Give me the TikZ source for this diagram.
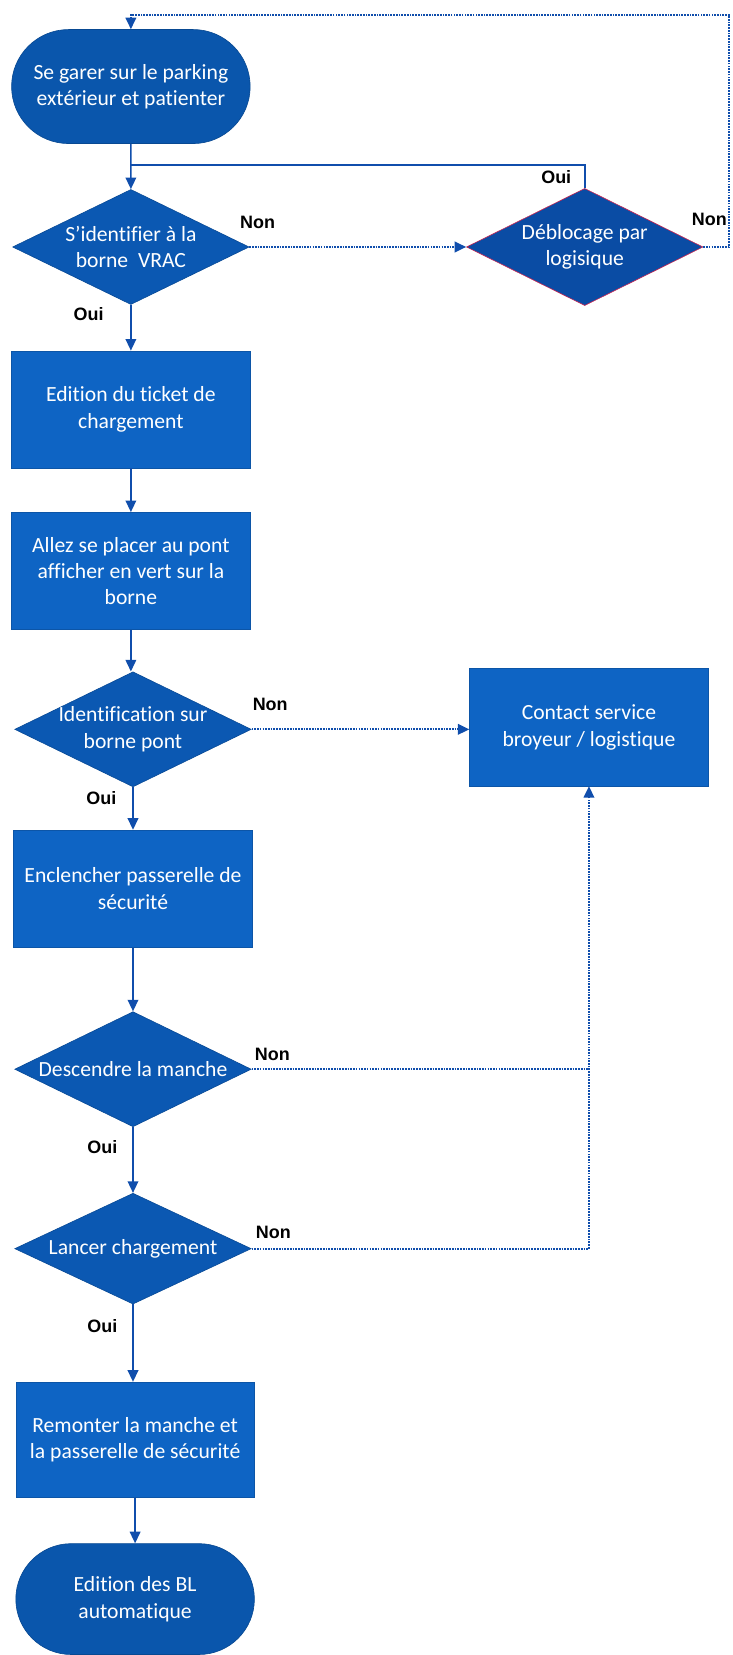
\documentclass[tikz,border=0pt]{standalone}
\usepackage{fontspec}
\setmainfont{Carlito}[Ligatures=NoCommon]
\newfontfamily\lblfont{Liberation Sans}
\usetikzlibrary{shapes.geometric,shapes.misc,arrows.meta}

\definecolor{termblue}{RGB}{10,86,172}
\definecolor{boxblue}{RGB}{14,100,196}
\definecolor{decblue}{RGB}{11,88,178}
\definecolor{debblue}{RGB}{10,76,164}
\definecolor{lineblue}{RGB}{16,78,172}
\definecolor{edgered}{RGB}{196,40,86}

\begin{document}
\begin{tikzpicture}[x=1pt,y=-1pt,
  every node/.style={font=\fontsize{20.5}{25}\selectfont},
  proc/.style={rectangle,fill=boxblue,draw=boxblue!85!black,line width=0.6pt,
    text=white,align=center,inner sep=0pt,minimum width=226pt,minimum height=111pt},
  term/.style={rounded rectangle,fill=termblue,draw=termblue!85!black,line width=0.6pt,
    text=white,align=center,inner sep=0pt,minimum width=226pt,minimum height=108pt},
  decision/.style={diamond,aspect=2,fill=decblue,draw=decblue!85!black,line width=0.6pt,
    text=white,align=center,inner xsep=-30pt,inner ysep=-15pt,
    minimum width=224pt,minimum height=109pt},
  flow/.style={draw=lineblue,line width=1.6pt,-{Triangle[length=11pt,width=10pt]}},
  dotflow/.style={flow,densely dotted,line width=2pt},
  lbl/.style={font=\lblfont\bfseries\fontsize{17}{20}\selectfont,text=black}]

\useasboundingbox (0,0) rectangle (694,1568);

% Draw the left column
\node[term] (park) at (124,82) {Se garer sur le parking\\extérieur et patienter};
\node[decision] (borne) at (124,234) {S'identifier à la\\borne~ VRAC};
\node[proc] (ticket) at (124,388) {Edition du ticket de\\chargement};
\node[proc] (pont) at (124,541) {Allez se placer au pont\\afficher en vert sur la\\borne};
\node[decision] (ident) at (126,691) {Identification sur\\borne pont};
\node[proc] (passer) at (126,842) {Enclencher passerelle de\\sécurité};
\node[decision] (manche) at (126,1013) {Descendre la manche};
\node[decision,minimum height=105pt] (lancer) at (126,1183) {Lancer chargement};
\node[proc,minimum height=109pt] (remont) at (128,1364) {Remonter la manche et\\la passerelle de sécurité};
\node[term,minimum height=105pt] (bl) at (128,1515) {Edition des BL\\automatique};

% Draw the right column
\node[decision,fill=debblue,draw=edgered,minimum height=111pt] (debloc) at (554,234) {Déblocage par\\logisique};
\node[proc] (contact) at (558,689) {Contact service\\broyeur / logistique};

% helper points
\coordinate (join) at (park.south |- 0,156);
\coordinate (loop) at (691,14);

% Draw the main flow
\draw[flow] (park) -- (borne);
\draw[flow] (borne) -- (ticket);
\draw[flow] (ticket) -- (pont);
\draw[flow] (pont) -- (pont |- ident.north);
\draw[flow] (ident) -- (passer);
\draw[flow] (passer) -- (manche);
\draw[flow] (manche) -- (lancer);
\draw[flow] (lancer) -- (lancer |- remont.north);
\draw[flow] (remont) -- (bl);

% Draw the side branches
\draw[flow,-] (debloc.north) |- (join);
\draw[dotflow] (borne.east) -- (debloc.west);
\draw[dotflow] (debloc.east) -| (loop) -| (park.north);
\draw[dotflow] (ident.east) -- (contact.west |- ident.east);
\draw[dotflow,-] (manche.east) -- (contact.south |- manche.east);
\draw[dotflow] (lancer.east) -| (contact.south);

% Oui / Non labels
\node[lbl] (oui1) at (527,168) {Oui};
\node[lbl] (non1) at (244,211) {Non};
\node[lbl] (non2) at (672,208) {Non};
\node[lbl] (oui2) at (84,298) {Oui};
\node[lbl] (non3) at (256,667) {Non};
\node[lbl] (oui3) at (96,756) {Oui};
\node[lbl] (non4) at (258,999) {Non};
\node[lbl] (oui4) at (97,1087) {Oui};
\node[lbl] (non5) at (259,1168) {Non};
\node[lbl] (oui5) at (97,1256) {Oui};

\end{tikzpicture}
\end{document}
